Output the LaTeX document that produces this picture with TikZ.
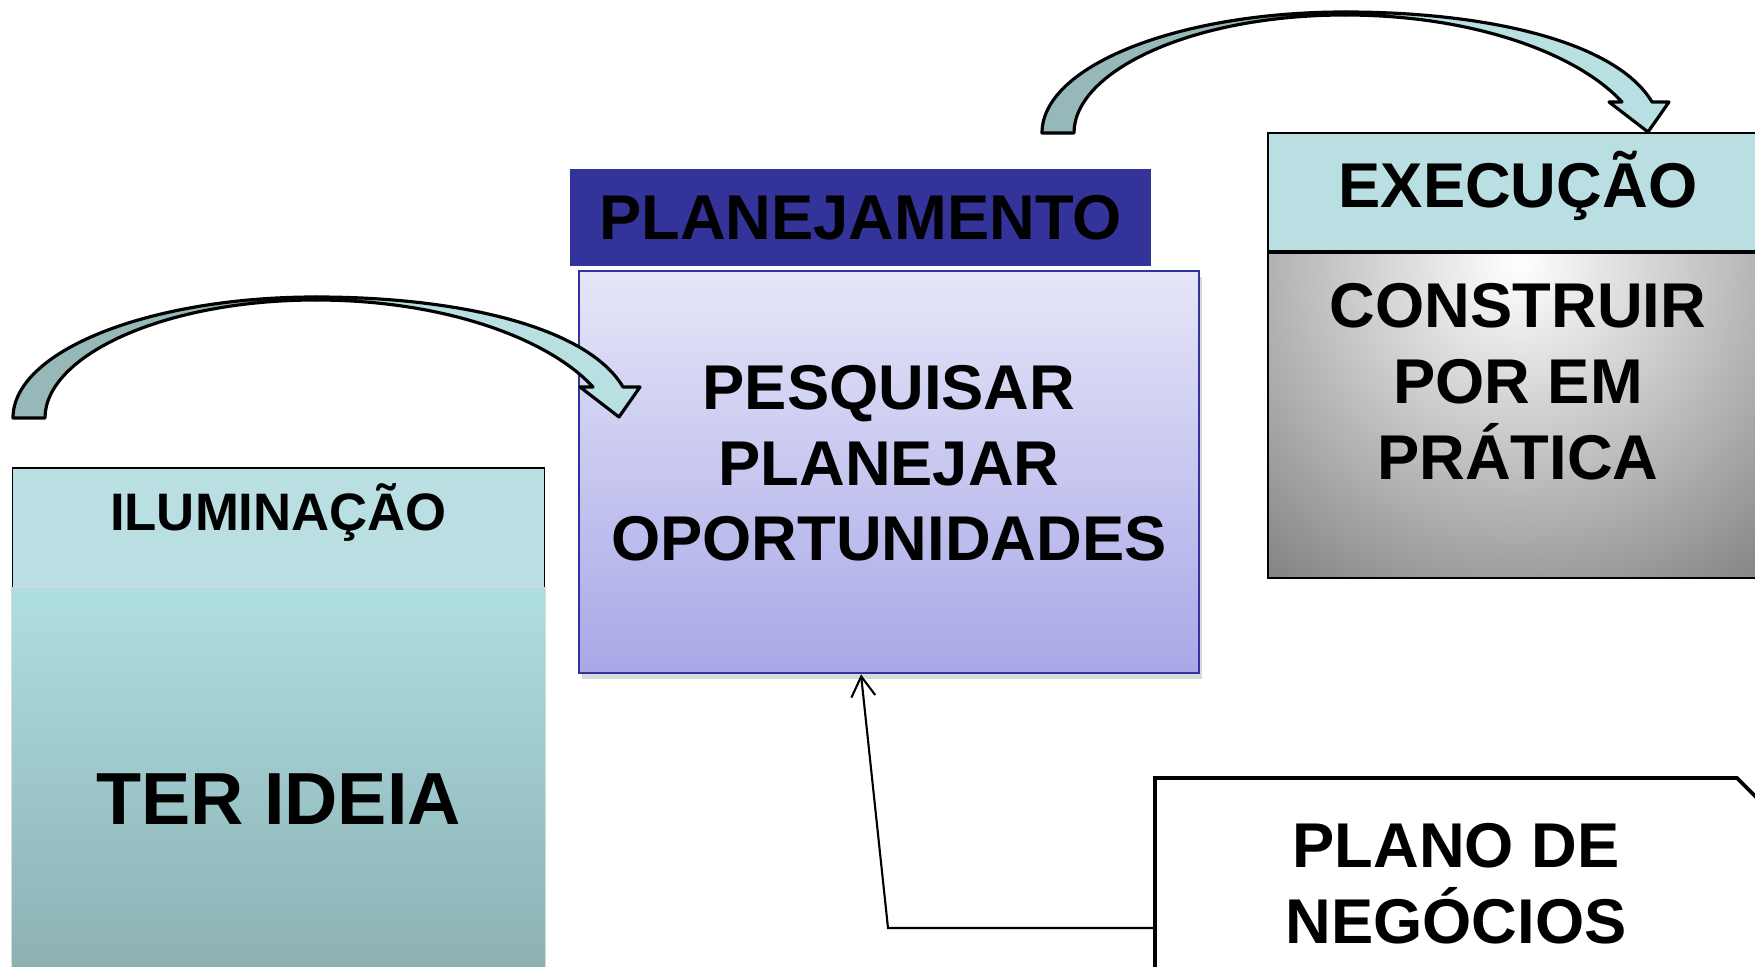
\documentclass[tikz,border=0pt]{standalone}
\usepackage{fontspec}
\setmainfont{Liberation Sans}
\usepackage{xcolor}
\usepackage{tikz}
\usetikzlibrary{positioning,shapes.misc,shadows,arrows.meta}

\definecolor{ilumCyan}{RGB}{186,223,226}
\definecolor{ideaTop}{RGB}{175,222,226}
\definecolor{ideaBottom}{RGB}{136,172,174}
\definecolor{planNavy}{RGB}{51,51,153}
\definecolor{planTop}{RGB}{230,230,248}
\definecolor{planBottom}{RGB}{168,168,232}
\definecolor{planEdge}{RGB}{51,51,160}
\definecolor{bandDark}{RGB}{150,184,184}
\definecolor{bandLight}{RGB}{184,224,226}
\definecolor{execGray}{RGB}{125,125,125}

\newcommand\boxFont{\fontsize{18}{21.6}\selectfont\bfseries}
\newcommand\ilumFont{\fontsize{15}{18}\selectfont\bfseries}
\newcommand\ideaFont{\fontsize{21}{25}\selectfont\bfseries}

\begin{document}
\begin{tikzpicture}[x=0.1mm, y=-0.1mm, >={Straight Barb[length=2mm,width=2.4mm]}]
        %[set style={{help lines}+=[dashed]}, scale=0.85]
        \tikzstyle{headBox} = [draw, fill=ilumCyan, rectangle, 
            line width=0.5pt, inner sep=0pt, font=\boxFont]
        \tikzstyle{ideaBox} = [rectangle, top color=ideaTop, 
            bottom color=ideaBottom, draw=gray!30, inner sep=0pt, font=\ideaFont]
        \tikzstyle{planHeadBox} = [rectangle, fill=planNavy, draw=white, 
            line width=1.7pt, inner sep=0pt, font=\boxFont,
            drop shadow={opacity=0.25, shadow xshift=-0.3mm, shadow yshift=0.3mm}]
        \tikzstyle{planBody} = [rectangle, draw=planEdge, line width=0.8pt, 
            top color=planTop, bottom color=planBottom, align=center, 
            inner sep=0pt, font=\boxFont,
            drop shadow={opacity=0.3, shadow xshift=0.3mm, shadow yshift=-0.6mm}]
        \tikzstyle{execBody} = [rectangle, draw, line width=0.5pt, align=center, 
            inner sep=0pt, font=\boxFont,
            path picture={\shade[inner color=white, outer color=execGray] 
                ([yshift=-1.1mm]path picture bounding box.north) circle (42mm);}]
        \tikzstyle{planoBody} = [chamfered rectangle, 
            chamfered rectangle corners=north east, 
            chamfered rectangle xsep=1mm, chamfered rectangle ysep=1mm,
            draw, fill=white, line width=1.1pt, align=center, inner sep=0pt, 
            font=\boxFont]
        \tikzstyle{bandDarkPortion} = [fill=bandDark, draw=black, 
            line width=0.9pt, line join=round]
        \tikzstyle{bandLightPortion} = [fill=bandLight, draw=black, 
            line width=0.9pt, line join=round]
        \tikzstyle{connEdge} = [->, black, line width=0.6pt];

        \useasboundingbox (0,0) rectangle (1755,967);
        \clip (0,0) rectangle (1755,967);

        \node[headBox, minimum width=53.2mm, minimum height=12mm, 
            font=\ilumFont, text height=3.8mm, text depth=3.2mm] 
            (nodeIlum) at (278.5,528) {ILUMINAÇÃO};
        \node[ideaBox, minimum width=53.4mm, minimum height=42.4mm, 
            below=-0.6pt of nodeIlum] (nodeIdea) {TER IDEIA};

        \node[planHeadBox, minimum width=58.7mm, minimum height=10.3mm] 
            (nodePlanHead) at (860.5,217.5) {PLANEJAMENTO};
        \node[planBody, minimum width=62mm, minimum height=40.2mm, 
            text depth=1.8mm] (nodePlan) at (889,472) 
            {PESQUISAR\\PLANEJAR\\OPORTUNIDADES};

        \node[headBox, minimum width=50mm, minimum height=11.8mm, 
            text height=4.53mm, text depth=1.4mm] 
            (nodeExecHead) at (1518,192) {EXECUÇÃO};
        \node[execBody, minimum width=50mm, minimum height=32.5mm, 
            text depth=6.7mm, below=0pt of nodeExecHead] (nodeExec) 
            {CONSTRUIR\\POR EM\\PRÁTICA};

        \node[planoBody, minimum width=60.2mm, minimum height=21.1mm] 
            (nodePlano) at (1456,883.5) {PLANO DE\\NEGÓCIOS};

        \coordinate (bendPt) at (888,928);
        \draw[connEdge] ([yshift=-4.45mm]nodePlano.west) 
        -- (bendPt) 
        -- ([xshift=-2.8mm]nodePlan.south);

        % curved arrow into planning
        \begin{scope}[shift={(13,418)}]
            \path[bandDarkPortion] (0,0) 
            .. controls (0,-67) and (136,-121) .. (303,-121) 
            -- (303,-118) 
            .. controls (150,-118) and (32,-62) .. (32,0) -- cycle;
            \path[bandLightPortion] (303,-121) 
            .. controls (450,-121) and (575,-90) .. (610,-31) 
            -- (627,-31) -- (606,-1) -- (567,-31) -- (580,-31) 
            .. controls (535,-80) and (430,-118) .. (303,-118) -- cycle;
        \end{scope}

        % curved arrow into execution
        \begin{scope}[shift={(1042,133)}]
            \path[bandDarkPortion] (0,0) 
            .. controls (0,-67) and (136,-121) .. (303,-121) 
            -- (303,-118) 
            .. controls (150,-118) and (32,-62) .. (32,0) -- cycle;
            \path[bandLightPortion] (303,-121) 
            .. controls (450,-121) and (575,-90) .. (610,-31) 
            -- (627,-31) -- (606,-1) -- (567,-31) -- (580,-31) 
            .. controls (535,-80) and (430,-118) .. (303,-118) -- cycle;
        \end{scope}
    \end{tikzpicture}
\end{document}
